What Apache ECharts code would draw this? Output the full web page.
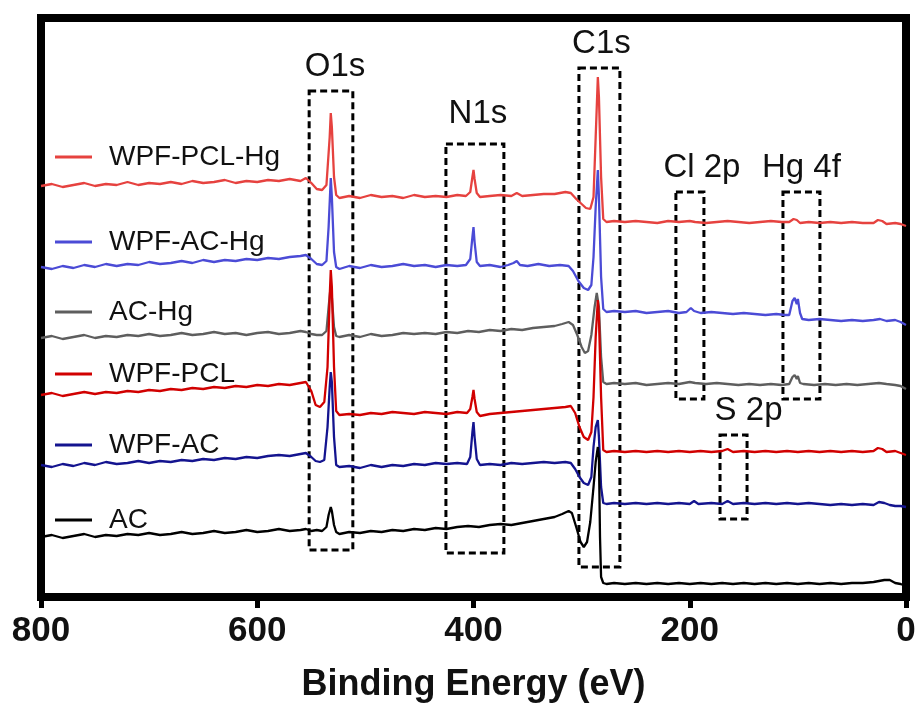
<!DOCTYPE html>
<html>
<head>
<meta charset="utf-8">
<title>XPS survey</title>
<script src="https://cdn.jsdelivr.net/npm/echarts@6/dist/echarts.min.js"></script>
<style>
  html, body { margin: 0; padding: 0; background: #fff; }
  #chart { width: 917px; height: 705px; }
</style>
</head>
<body>
<div id="chart"></div>
<script>
// spectra, [binding energy (eV), intensity (a.u., stacked)]
const wpfPclHg = [[800,411],[790,413],[780,410],[770,412],[760,414],[750,411],[740,413],[730,412],[720,415],[710,412],[700,414],[690,413],[680,415],[670,413],[660,416],[650,414],[640,415],[630,417],[620,414],[610,416],[600,415],[590,417],[580,416],[570,418],[560,416],[555,419],[550,414],[545,408],[540,407],[536,412],[533,460],[532,484],[531,470],[529,420],[527,402],[524,399],[515,401],[505,399],[495,402],[485,400],[475,401],[465,399],[455,402],[445,400],[435,401],[425,400],[415,402],[407,401],[403,405],[401,420],[400,427],[399,418],[397,404],[394,400],[385,401],[375,402],[365,401],[360,404],[355,401],[345,402],[335,403],[325,403],[315,405],[310,404],[305,398],[300,393],[296,389],[292,388],[289,400],[287,460],[285,520],[284,500],[282,420],[280,378],[277,375],[270,376],[260,375],[250,376],[240,375],[230,374],[220,376],[210,375],[200,376],[195,375],[185,374],[175,375],[165,376],[155,375],[145,374],[135,375],[125,376],[115,375],[108,375],[104,378],[101,377],[98,374],[90,375],[80,374],[70,375],[60,374],[50,375],[40,374],[30,374],[26,377],[22,376],[18,373],[10,374],[5,373],[0,371]];
const wpfAcHg = [[800,330],[790,328],[780,331],[770,329],[760,332],[750,330],[740,333],[730,331],[720,333],[710,332],[700,335],[690,333],[680,334],[670,336],[660,334],[650,337],[640,335],[630,337],[620,336],[610,338],[600,337],[590,339],[580,338],[570,340],[560,341],[555,342],[550,338],[545,333],[540,332],[536,336],[534,370],[532,419],[531,400],[529,345],[527,330],[524,328],[515,331],[505,329],[495,332],[485,330],[475,331],[465,333],[455,331],[445,332],[435,330],[425,332],[415,331],[407,332],[403,338],[401,360],[400,370],[399,355],[397,335],[394,331],[385,332],[375,330],[368,332],[363,334],[360,336],[357,332],[350,331],[340,333],[330,331],[320,332],[312,331],[308,326],[303,316],[298,309],[294,307],[291,312],[289,340],[287,390],[285,427],[284,400],[282,320],[280,288],[277,285],[270,286],[260,285],[250,286],[240,284],[230,285],[220,286],[210,284],[203,285],[199,289],[196,286],[190,284],[180,285],[170,284],[160,283],[150,284],[140,283],[130,282],[120,283],[112,282],[108,282],[105,296],[103,299],[101,293],[100,298],[98,284],[96,278],[90,277],[80,278],[70,277],[60,276],[50,277],[40,276],[30,277],[24,278],[18,276],[10,277],[5,275],[0,272]];
const acHg = [[800,259],[790,261],[780,258],[770,260],[760,262],[750,259],[740,261],[730,260],[720,262],[710,261],[700,263],[690,261],[680,262],[670,264],[660,262],[650,263],[640,265],[630,263],[620,264],[610,262],[600,264],[590,265],[580,263],[570,264],[560,266],[555,265],[550,263],[545,262],[540,262],[536,266],[534,290],[532,312],[531,300],[529,270],[527,261],[524,260],[515,262],[505,260],[495,263],[485,261],[475,262],[465,264],[455,263],[445,264],[435,263],[425,265],[415,264],[405,266],[395,265],[385,267],[375,266],[365,268],[355,267],[345,269],[335,270],[325,271],[318,273],[312,275],[308,272],[304,262],[300,250],[297,244],[294,246],[291,262],[288,290],[286,304],[285,304],[284,290],[282,240],[280,215],[277,213],[270,214],[260,213],[250,214],[240,212],[230,213],[220,214],[210,213],[200,215],[195,214],[185,213],[175,214],[165,213],[155,212],[145,213],[135,212],[125,213],[115,212],[108,213],[105,220],[103,222],[101,218],[100,221],[98,214],[95,213],[85,212],[75,213],[65,212],[55,213],[45,212],[35,213],[25,214],[18,213],[10,212],[5,211],[0,208]];
const wpfPcl = [[800,202],[790,204],[780,201],[770,203],[760,205],[750,203],[740,205],[730,204],[720,206],[710,205],[700,207],[690,206],[680,208],[670,207],[660,209],[650,208],[640,210],[630,209],[620,211],[610,210],[600,212],[590,211],[580,213],[570,212],[560,214],[555,215],[550,206],[546,192],[542,190],[538,195],[535,230],[533,300],[532,327],[531,310],[529,230],[527,186],[524,182],[515,183],[505,182],[495,184],[485,183],[475,185],[465,184],[455,183],[445,185],[435,184],[425,183],[415,185],[406,184],[403,188],[401,200],[400,207],[399,198],[397,185],[394,181],[385,183],[375,184],[365,185],[355,186],[345,187],[335,188],[325,189],[315,190],[310,191],[306,184],[302,170],[298,160],[294,157],[291,165],[289,200],[287,260],[285,297],[284,280],[282,200],[280,147],[277,145],[270,146],[260,145],[250,146],[240,145],[230,146],[220,145],[210,146],[200,145],[190,146],[180,145],[170,146],[165,148],[160,145],[150,146],[140,145],[130,146],[120,145],[110,146],[100,145],[90,146],[80,145],[70,146],[60,145],[50,146],[40,145],[30,146],[26,149],[22,148],[18,145],[10,146],[5,144],[0,142]];
const wpfAc = [[800,132],[790,130],[780,133],[770,131],[760,134],[750,132],[740,135],[730,133],[720,134],[710,136],[700,134],[690,136],[680,135],[670,137],[660,136],[650,138],[640,137],[630,139],[620,138],[610,140],[600,139],[590,141],[580,142],[570,141],[560,143],[555,144],[550,140],[546,136],[542,135],[538,137],[535,170],[533,210],[532,225],[531,215],[529,160],[527,132],[524,130],[515,131],[505,129],[495,132],[485,130],[475,132],[465,131],[455,133],[445,132],[435,134],[425,133],[415,134],[406,133],[403,140],[401,165],[400,175],[399,160],[397,138],[394,132],[385,133],[375,132],[365,134],[355,133],[345,134],[335,135],[325,134],[315,135],[310,134],[306,128],[302,120],[298,114],[294,112],[291,120],[289,150],[287,170],[285,177],[284,160],[282,110],[280,94],[277,93],[270,94],[260,93],[250,94],[240,93],[230,94],[220,93],[210,94],[200,93],[196,96],[192,93],[180,94],[170,93],[165,96],[160,93],[150,94],[140,93],[130,94],[120,93],[110,94],[100,93],[90,94],[80,93],[70,92],[60,93],[50,92],[40,93],[30,92],[25,95],[20,94],[15,92],[10,91],[5,91],[0,90]];
const ac = [[800,60],[790,62],[780,59],[770,61],[760,63],[750,60],[740,62],[730,61],[720,63],[710,62],[700,64],[690,62],[680,63],[670,65],[660,63],[650,64],[640,66],[630,64],[620,65],[610,67],[600,65],[590,66],[580,68],[570,66],[560,67],[555,68],[550,66],[545,67],[540,66],[536,70],[534,82],[532,90],[531,86],[529,72],[527,65],[524,63],[515,65],[505,64],[495,66],[485,65],[475,67],[465,66],[455,68],[445,67],[435,69],[425,68],[415,70],[405,71],[395,70],[385,72],[375,73],[365,72],[355,74],[345,76],[335,78],[325,80],[318,83],[312,86],[309,84],[305,70],[301,55],[298,50],[295,55],[292,75],[289,110],[287,135],[285,150],[284,140],[283,60],[282,20],[280,14],[277,13],[270,14],[260,13],[250,14],[240,13],[230,14],[220,13],[210,14],[200,13],[190,14],[180,13],[170,14],[160,13],[150,14],[140,13],[130,14],[120,13],[110,14],[100,13],[90,14],[80,13],[70,14],[60,13],[50,14],[40,14],[30,15],[20,17],[15,17],[10,14],[5,13],[0,11]];

const names = ['WPF-PCL-Hg', 'WPF-AC-Hg', 'AC-Hg', 'WPF-PCL', 'WPF-AC', 'AC'];
const spectra = [wpfPclHg, wpfAcHg, acHg, wpfPcl, wpfAc, ac];
const colors = ['#e6423f', '#4b4bd6', '#5e5e5e', '#d10000', '#14148f', '#000000'];

// peak regions: label, energy from, energy to, intensity low, intensity high
const regionNames = ['O1s', 'N1s', 'C1s', 'Cl 2p', 'Hg 4f', 'S 2p'];
const regionFrom = [552, 425.5, 302.5, 212.8, 113.8, 172];
const regionTo = [511.6, 371.9, 264.6, 186.9, 79.6, 147];
const regionLow = [47, 44, 30, 198, 198, 78];
const regionHigh = [506, 453, 529, 405, 405, 162];

const xTicks = [0, 200, 400, 600, 800];

const FONT = '"Liberation Sans", Arial, Helvetica, sans-serif';
const legendTops = [138, 223, 293, 355, 426, 501];
const labelShift = [[4, 0], [3, -6], [2, 0], [12, 0], [0, 0], [15, 0]];

let chart = echarts.init(document.getElementById('chart'), null, { renderer: 'canvas' });

let areas = regionNames.map((n, i) => [
    {
        name: n,
        xAxis: regionFrom[i],
        yAxis: regionHigh[i],
        label: { offset: labelShift[i] }
    },
    { xAxis: regionTo[i], yAxis: regionLow[i] }
]);

let series = names.map((n, i) => ({
    name: n,
    type: 'line',
    data: spectra[i],
    showSymbol: false,
    symbol: 'none',
    lineStyle: { color: colors[i], width: 2.3 },
    itemStyle: { color: colors[i] },
    z: 2 + i
}));

series[5].markArea = {
    silent: true,
    itemStyle: {
        color: 'rgba(0,0,0,0)',
        borderColor: '#000',
        borderWidth: 3,
        borderType: [7, 4]
    },
    label: {
        show: true,
        position: 'top',
        distance: 6,
        color: '#111',
        fontFamily: FONT,
        fontSize: 33
    },
    data: areas
};

let legends = names.map((n, i) => ({
    data: [n],
    left: 50,
    top: legendTops[i],
    orient: 'vertical',
    icon: 'rect',
    itemWidth: 37,
    itemHeight: 3,
    selectedMode: false,
    textStyle: {
        fontFamily: FONT,
        fontSize: 28,
        color: '#111',
        padding: [0, 0, 0, 12]
    }
}));

let options = {
    animation: false,
    backgroundColor: '#fff',
    legend: legends,
    grid: {
        show: true,
        left: 41,
        right: 11,
        top: 18,
        bottom: 108,
        outerBoundsMode: 'none',
        borderColor: '#000',
        borderWidth: 8,
        backgroundColor: '#fff'
    },
    xAxis: {
        type: 'value',
        inverse: true,
        min: 0,
        max: 800,
        interval: 200,
        name: 'Binding Energy (eV)',
        nameLocation: 'middle',
        nameGap: 70,
        nameTextStyle: {
            fontFamily: FONT,
            fontSize: 36,
            fontWeight: 'bold',
            color: '#111'
        },
        axisLine: { show: false },
        axisTick: {
            show: true,
            length: 11,
            lineStyle: { color: '#000', width: 5 }
        },
        axisLabel: {
            margin: 17,
            fontFamily: FONT,
            fontSize: 35,
            fontWeight: 'bold',
            color: '#111',
            customValues: xTicks
        },
        splitLine: { show: false }
    },
    yAxis: {
        type: 'value',
        min: 0,
        max: 579,
        show: false,
        splitLine: { show: false }
    },
    series: series
};

chart.setOption(options);
window.addEventListener('resize', () => { chart.resize() });
</script>
</body>
</html>
